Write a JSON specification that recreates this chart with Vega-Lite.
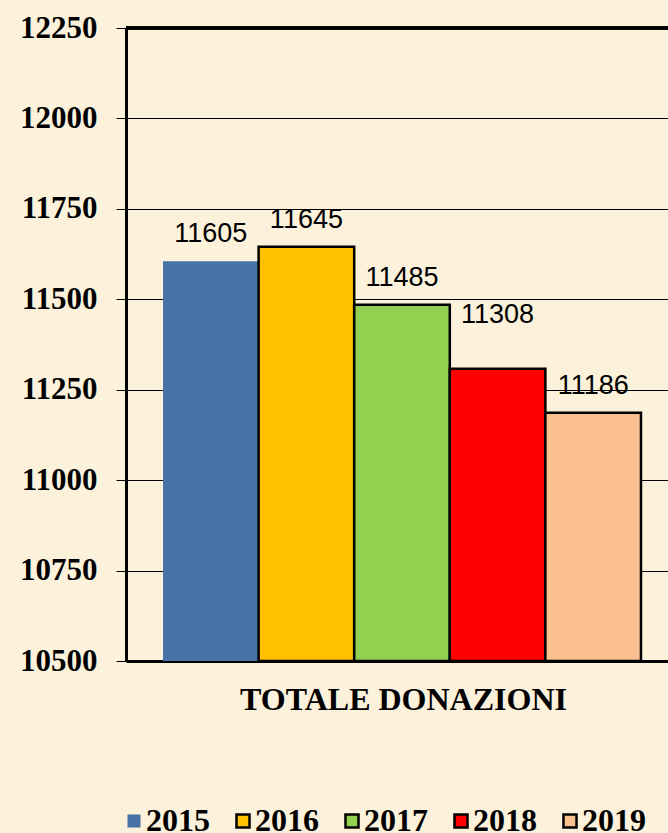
{
  "$schema": "https://vega.github.io/schema/vega-lite/v6.json",
  "autosize": "none",
  "width": 542,
  "height": 633,
  "padding": {"left": 126, "top": 28, "right": 0, "bottom": 172},
  "background": "#FCF1DA",
  "config": {
    "view": {"stroke": null},
    "axis": {"domainColor": "black", "tickColor": "black", "gridColor": "black", "gridOpacity": 1}
  },
  "data": {
    "values": [
      {"year": "2015", "donazioni": 11605},
      {"year": "2016", "donazioni": 11645},
      {"year": "2017", "donazioni": 11485},
      {"year": "2018", "donazioni": 11308},
      {"year": "2019", "donazioni": 11186}
    ]
  },
  "layer": [
    {
      "mark": {"type": "bar", "strokeWidth": 2.5},
      "encoding": {
        "x": {
          "field": "year",
          "type": "nominal",
          "scale": {"paddingInner": 0, "paddingOuter": 0.335, "align": 0.578},
          "axis": {
            "labels": false,
            "ticks": false,
            "grid": false,
            "domainWidth": 3,
            "title": "TOTALE DONAZIONI",
            "titleFont": "Liberation Serif",
            "titleFontWeight": "bold",
            "titleFontSize": 32,
            "titleColor": "black",
            "titleBaseline": "alphabetic",
            "titleX": 277,
            "titleY": 48
          }
        },
        "y": {
          "field": "donazioni",
          "type": "quantitative",
          "scale": {"domain": [10500, 12250], "zero": false, "nice": false},
          "axis": {
            "values": [10500, 10750, 11000, 11250, 11500, 11750, 12000, 12250],
            "format": "d",
            "title": null,
            "grid": true,
            "gridWidth": 1,
            "domainWidth": 3,
            "tickSize": 10,
            "tickWidth": 1,
            "labelFont": "Liberation Serif",
            "labelFontWeight": "bold",
            "labelFontSize": 31,
            "labelColor": "black",
            "labelPadding": 19,
            "labelFlush": false,
            "labelOverlap": false
          }
        },
        "y2": {"datum": 10500},
        "fill": {
          "field": "year",
          "type": "nominal",
          "scale": {"domain": ["2015", "2016", "2017", "2018", "2019"], "range": ["#4672A8", "#FFC000", "#92D050", "#FF0000", "#FAC090"]},
          "legend": {
            "title": null,
            "orient": "none",
            "direction": "horizontal",
            "legendX": -8,
            "legendY": 777,
            "padding": 0,
            "symbolType": "square",
            "symbolSize": 170,
            "symbolStrokeWidth": 2.5,
            "labelFont": "Liberation Serif",
            "labelFontWeight": "bold",
            "labelFontSize": 32,
            "labelColor": "black",
            "labelOffset": -4,
            "columnPadding": 17
          }
        },
        "stroke": {
          "field": "year",
          "type": "nominal",
          "scale": {"domain": ["2015", "2016", "2017", "2018", "2019"], "range": ["transparent", "black", "black", "black", "black"]},
          "legend": {
            "title": null,
            "orient": "none",
            "direction": "horizontal",
            "legendX": -8,
            "legendY": 777,
            "padding": 0,
            "symbolType": "square",
            "symbolSize": 170,
            "symbolStrokeWidth": 2.5,
            "labelFont": "Liberation Serif",
            "labelFontWeight": "bold",
            "labelFontSize": 32,
            "labelColor": "black",
            "labelOffset": -4,
            "columnPadding": 17
          }
        }
      }
    },
    {
      "transform": [{"filter": "datum.year != '2018'"}],
      "mark": {"type": "text", "baseline": "alphabetic", "dy": -19, "font": "Liberation Sans", "fontSize": 27, "color": "black"},
      "encoding": {
        "x": {"field": "year", "type": "nominal"},
        "y": {"field": "donazioni", "type": "quantitative"},
        "text": {"field": "donazioni", "type": "quantitative", "format": "d"}
      }
    },
    {
      "transform": [{"filter": "datum.year == '2018'"}],
      "mark": {"type": "text", "baseline": "alphabetic", "dy": -46, "font": "Liberation Sans", "fontSize": 27, "color": "black"},
      "encoding": {
        "x": {"field": "year", "type": "nominal"},
        "y": {"field": "donazioni", "type": "quantitative"},
        "text": {"field": "donazioni", "type": "quantitative", "format": "d"}
      }
    },
    {
      "mark": {"type": "rule", "color": "black", "strokeWidth": 3},
      "encoding": {"y": {"datum": 12250}}
    }
  ]
}
